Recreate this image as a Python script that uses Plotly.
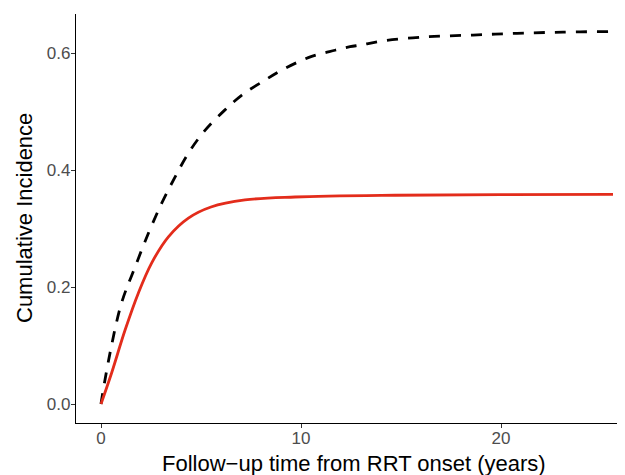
import plotly.graph_objects as go

# Black dashed curve
black_x = [0, 0.03, 0.45, 1.03, 1.7, 2.37, 3.03, 3.7, 4.37, 5.2, 6.2, 7.03, 8.2, 9.2,
           10.5, 11.7, 12.45, 13.0, 14.1, 16.3, 18.6, 20.8, 23.1, 25.4, 25.6]
black_y = [0, 0.007, 0.087, 0.173, 0.234, 0.292, 0.343, 0.388, 0.429, 0.468, 0.503, 0.528,
           0.554, 0.574, 0.594, 0.605, 0.611, 0.614, 0.621, 0.628, 0.631, 0.634, 0.636, 0.637, 0.637]

# Red solid curve
red_x = [0, 0.53, 1.2, 1.87, 2.53, 3.37, 4.37, 5.5, 7.2, 9.7, 14.7, 20.0, 25.6]
red_y = [0, 0.053, 0.126, 0.190, 0.241, 0.286, 0.318, 0.337, 0.349, 0.354, 0.357, 0.358, 0.3585]

x_ticks = [0, 10, 20]
y_ticks = [0.0, 0.2, 0.4, 0.6]
y_tick_labels = ["0.0", "0.2", "0.4", "0.6"]

x_title = "Follow\u2212up time from RRT onset (years)"
y_title = "Cumulative Incidence"

# The page body has an 8px default margin; the figure is sized to fit the window.
OFF = 8
W, H = 625 - OFF, 475 - OFF
ML, MR, MT, MB = 76 - OFF, 0, 14 - OFF, 52
PH = H - MT - MB
PW = W - ML - MR

fig = go.Figure()
fig.add_trace(go.Scatter(x=black_x, y=black_y, mode="lines",
                         line=dict(color="black", width=2.8, dash="11px,10px", shape="spline"),
                         showlegend=False))
fig.add_trace(go.Scatter(x=red_x, y=red_y, mode="lines",
                         line=dict(color="#e32c1b", width=2.8, shape="spline"),
                         showlegend=False))

fig.update_layout(
    width=W, height=H,
    margin=dict(l=ML, r=MR, t=MT, b=MB),
    plot_bgcolor="white", paper_bgcolor="white",
    font=dict(family="Liberation Sans, Arial, sans-serif"),
)
axis_common = dict(
    showgrid=False, zeroline=False, automargin=False,
    showline=True, linecolor="black", linewidth=1.4,
    ticks="outside", ticklen=4, tickwidth=1.1, tickcolor="#333333",
    tickfont=dict(size=17, color="#4d4d4d"),
)
fig.update_xaxes(range=[-1.25, 26.2], tickvals=x_ticks, ticklabelstandoff=-5, **axis_common)
fig.update_yaxes(range=[-0.0325, 0.667], tickvals=y_ticks, ticktext=y_tick_labels,
                 ticklabelstandoff=-3, **axis_common)

# titles, positioned in window pixels (converted to paper coords)
fig.add_annotation(text=x_title, xref="paper", yref="paper",
                   x=(354 - 76) / PW, y=-(463 - 423) / PH,
                   xanchor="center", yanchor="middle", showarrow=False,
                   font=dict(size=22, color="black"))
fig.add_annotation(text=y_title, xref="paper", yref="paper",
                   x=-(76 - 24) / PW, y=(423 - 218) / PH,
                   xanchor="center", yanchor="middle", showarrow=False, textangle=-90,
                   font=dict(size=22, color="black"))

fig.write_html("out.html")
